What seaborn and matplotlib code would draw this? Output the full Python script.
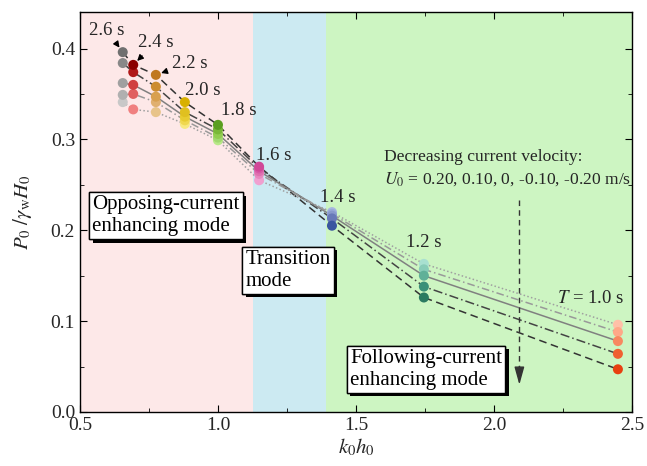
import matplotlib
matplotlib.use('Agg')
import matplotlib.pyplot as plt
import matplotlib.patheffects as pe
from matplotlib.ticker import MultipleLocator
import seaborn as sns
import pandas as pd

# wave periods and their k0h0 positions
periods = ['2.6 s', '2.4 s', '2.2 s', '2.0 s', '1.8 s', '1.6 s', '1.4 s', '1.2 s', '1.0 s']
k0h0 = [0.655, 0.693, 0.775, 0.880, 1.0, 1.149, 1.413, 1.746, 2.449]

# current velocities (m/s)
currents = [0.20, 0.10, 0.0, -0.10, -0.20]

# P0/(gamma_w H0) per period, ordered as currents
p_26 = [0.341, 0.349, 0.362, 0.384, 0.396]
p_24 = [0.333, 0.350, 0.360, 0.374, 0.382]
p_22 = [0.330, 0.341, 0.347, 0.358, 0.371]
p_20 = [0.317, 0.321, 0.325, 0.330, 0.341]
p_18 = [0.299, 0.302, 0.306, 0.311, 0.316]
p_16 = [0.255, 0.262, 0.265, 0.268, 0.270]
p_14 = [0.220, 0.218, 0.216, 0.213, 0.205]
p_12 = [0.163, 0.157, 0.150, 0.138, 0.126]
p_10 = [0.096, 0.088, 0.078, 0.064, 0.047]
pressures = [p_26, p_24, p_22, p_20, p_18, p_16, p_14, p_12, p_10]

# marker colours per period, light (U=0.20) -> dark (U=-0.20)
marker_colors = [
    ['#c8c8c8', '#b0b0b0', '#a0a0a0', '#888888', '#707070'],
    ['#f08080', '#e06060', '#d04040', '#b01818', '#8b0000'],
    ['#e8c48a', '#e0b070', '#d8a050', '#cc8c30', '#c07820'],
    ['#f8e880', '#f0d850', '#e8cc30', '#e0c020', '#d8b000'],
    ['#b8e888', '#a0d870', '#90cc50', '#78b838', '#5a9e20'],
    ['#f0a0d0', '#e888c0', '#e070b0', '#d85aa8', '#d04898'],
    ['#a8b8e0', '#98a8d8', '#8898cc', '#6878b8', '#3a55a0'],
    ['#a8e0d0', '#88ccb8', '#60b098', '#3a9078', '#2a7a60'],
    ['#ffc0a8', '#ffa888', '#f88860', '#f06030', '#e84010'],
]

line_colors = {0.20: '#a0a0a0', 0.10: '#999999', 0.0: '#808080', -0.10: '#444444', -0.20: '#333333'}
line_dashes = {0.20: (1, 1.5), 0.10: (5, 2, 1, 2), 0.0: '', -0.10: (6, 2, 1, 2), -0.20: (5, 3)}

rows = []
for T, x, vals, cols in zip(periods, k0h0, pressures, marker_colors):
    for U, y, c in zip(currents, vals, cols):
        rows.append({'T': T, 'k0h0': x, 'P': y, 'U': U, 'key': f'{T}_{U}', 'color': c})
df = pd.DataFrame(rows)

sns.set_style('ticks')
plt.rcParams['font.family'] = ['Liberation Serif', 'DejaVu Serif']
plt.rcParams['mathtext.fontset'] = 'stix'
plt.rcParams['xtick.direction'] = 'in'
plt.rcParams['ytick.direction'] = 'in'

fig = plt.figure(figsize=(6.47, 4.66), dpi=100)
ax = fig.add_axes([0.1236, 0.1159, 0.8532, 0.858])

# mode regions
ax.axvspan(0.5, 1.126, color='#fde8e8', lw=0, zorder=0)
ax.axvspan(1.126, 1.392, color='#cceaf2', lw=0, zorder=0)
ax.axvspan(1.392, 2.5, color='#cdf5c2', lw=0, zorder=0)

sns.lineplot(data=df, x='k0h0', y='P', hue='U', style='U', palette=line_colors,
             dashes=line_dashes, lw=1.1, legend=False, sort=True, ax=ax, zorder=2)
sns.scatterplot(data=df, x='k0h0', y='P', hue='key',
                palette=dict(zip(df['key'], df['color'])), s=52, linewidth=0,
                legend=False, ax=ax, zorder=3)

ax.set_xlim(0.5, 2.5)
ax.set_ylim(0, 0.44)
ax.xaxis.set_major_locator(MultipleLocator(0.5))
ax.xaxis.set_minor_locator(MultipleLocator(0.25))
ax.yaxis.set_major_locator(MultipleLocator(0.1))
ax.yaxis.set_minor_locator(MultipleLocator(0.05))
ax.tick_params(which='both', top=True, right=True, labelsize=14, color='black')
ax.tick_params(which='major', length=5)
ax.tick_params(which='minor', length=3)
for s in ax.spines.values():
    s.set_color('black')
    s.set_linewidth(1)
ax.set_xlabel(r'$k_0h_0$', fontsize=15, labelpad=2)
ax.set_ylabel(r'$P_0\ /\gamma_{\rm w}H_0$', fontsize=15, labelpad=12)

# period labels
fs = 13.5
arrow_kw = dict(arrowstyle='-|>', color='black', lw=0.9, mutation_scale=9, shrinkA=2, shrinkB=4)
ax.annotate(periods[0], xy=(k0h0[0], p_26[4]), xytext=(0.598, 0.420), fontsize=fs,
            ha='center', va='center', arrowprops=arrow_kw, zorder=5)
ax.annotate(periods[1], xy=(k0h0[1], p_24[4]), xytext=(0.775, 0.407), fontsize=fs,
            ha='center', va='center', arrowprops=arrow_kw, zorder=5)
ax.annotate(periods[2], xy=(k0h0[2], p_22[4]), xytext=(0.899, 0.384), fontsize=fs,
            ha='center', va='center', arrowprops=arrow_kw, zorder=5)
label_pos = [(0.946, 0.354), (1.076, 0.332), (1.203, 0.282), (1.435, 0.236), (1.746, 0.186)]
for T, (lx, ly) in zip(periods[3:8], label_pos):
    ax.text(lx, ly, T, fontsize=fs, ha='center', va='center', zorder=5)
ax.text(2.351, 0.125, r'$T$ = 1.0 s', fontsize=fs, ha='center', va='center', zorder=5)

# current velocity note
ax.text(1.601, 0.281, 'Decreasing current velocity:', fontsize=12.6, ha='left', va='center', zorder=5)
ax.text(1.601, 0.256, r'$U_0$ = 0.20, 0.10, 0, -0.10, -0.20 m/s', fontsize=12.6,
        ha='left', va='center', zorder=5)
ax.plot([2.092, 2.092], [0.233, 0.045], color='#333333', lw=1, ls=(0, (4, 3)), zorder=5)
ax.annotate('', xy=(2.092, 0.030), xytext=(2.092, 0.050),
            arrowprops=dict(arrowstyle='-|>,head_length=0.9,head_width=0.25',
                            color='#333333', lw=1, shrinkA=0, shrinkB=0,
                            mutation_scale=12), zorder=5)


def boxed(x, y, s):
    t = ax.text(x, y, s, fontsize=15, ha='left', va='center', linespacing=1.2,
                color='black', zorder=6,
                bbox=dict(boxstyle='square,pad=0.15', fc='white', ec='black', lw=1))
    t.get_bbox_patch().set_path_effects(
        [pe.withSimplePatchShadow(offset=(2.5, -2.5), shadow_rgbFace='black', alpha=1.0),
         pe.Normal()])
    return t


boxed(0.545, 0.216, 'Opposing-current\nenhancing mode')
boxed(1.100, 0.156, 'Transition\nmode')
boxed(1.478, 0.047, 'Following-current\nenhancing mode')

plt.savefig('out.png', dpi=100)
